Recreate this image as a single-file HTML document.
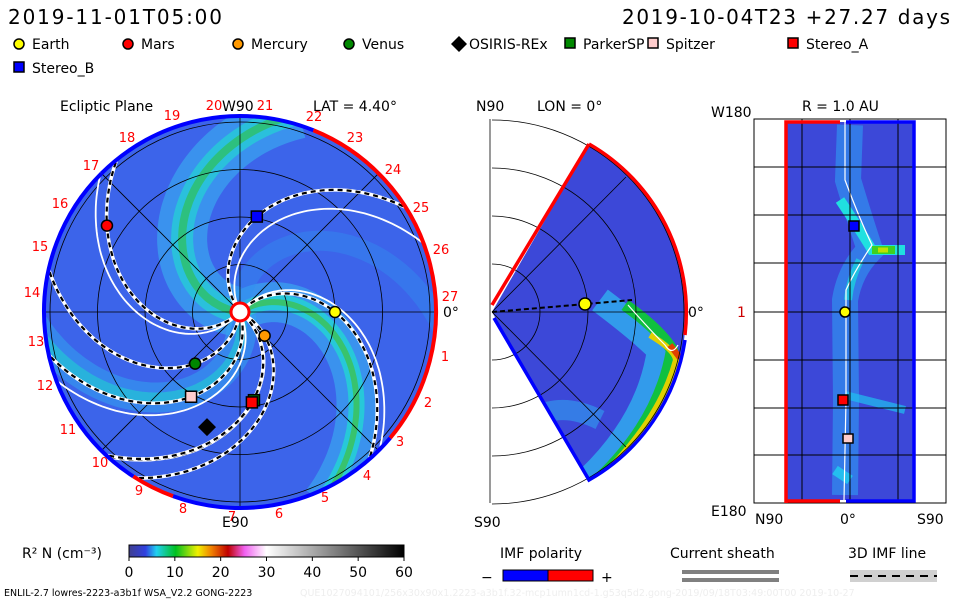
<!DOCTYPE html>
<html><head><meta charset="utf-8"><style>
body{margin:0;background:#fff;width:960px;height:600px;overflow:hidden;font-family:"DejaVu Sans","Liberation Sans",sans-serif}
svg text{font-family:"DejaVu Sans","Liberation Sans",sans-serif}
</style></head><body>
<svg id="s" width="960" height="600" viewBox="0 0 960 600" xmlns="http://www.w3.org/2000/svg">
<defs>
<clipPath id="cc"><circle cx="240" cy="312" r="196"/></clipPath>
<clipPath id="wc"><path d="M492,312 L589,144 A194,194 0 0 1 589,480 Z"/></clipPath>
<clipPath id="rc"><rect x="786" y="122" width="128" height="378"/></clipPath>
<linearGradient id="cb" x1="0" x2="1">
<stop offset="0" stop-color="#404090"/><stop offset="0.06" stop-color="#3040e0"/><stop offset="0.1" stop-color="#20d0f0"/><stop offset="0.17" stop-color="#00c020"/><stop offset="0.25" stop-color="#f0f000"/><stop offset="0.3" stop-color="#f08000"/><stop offset="0.36" stop-color="#c00000"/><stop offset="0.42" stop-color="#f060f0"/><stop offset="0.5" stop-color="#ffffff"/><stop offset="1" stop-color="#000000"/>
</linearGradient>
</defs>
<text x="8" y="24" font-size="20" textLength="214">2019-11-01T05:00</text>
<text x="622" y="24" font-size="20" textLength="328">2019-10-04T23 +27.27 days</text>
<g id="legend" font-size="14"></g>

<g>
<text x="60" y="111" font-size="14">Ecliptic Plane</text>
<text x="222" y="111" font-size="14">W90</text>
<text x="313" y="111" font-size="14">LAT = 4.40°</text>
<text x="222" y="527" font-size="14">E90</text>
<text x="443" y="317" font-size="14">0°</text>
<circle cx="240" cy="312" r="196" fill="#3c64ea"/>
<g id="bands" clip-path="url(#cc)"></g>
<g id="grid" clip-path="url(#cc)" fill="none" stroke="#000" stroke-width="0.8"></g>
<g id="spirals" clip-path="url(#cc)" fill="none"></g>
<g id="rimarcs" fill="none" stroke-width="4"></g>
<circle cx="240" cy="312" r="9" fill="#fff" stroke="#f00" stroke-width="3"/>
<g id="lonlabels" font-size="13" fill="#f00"></g>
<g id="bodies"></g>
</g>

<g>
<text x="476" y="111" font-size="14">N90</text>
<text x="537" y="111" font-size="14">LON = 0°</text>
<text x="474" y="527" font-size="14">S90</text>
<text x="688" y="317" font-size="14">0°</text>
<path d="M492,312 L589,144 A194,194 0 0 1 589,480 Z" fill="#3c48d8"/>
<g clip-path="url(#wc)" fill="none">
<path d="M600,300 Q640,330 660,350 Q650,420 590,478" stroke="#30b0f0" stroke-width="26" opacity="0.8"/>
<path d="M625,305 Q660,330 672,350 Q660,420 600,478" stroke="#10c040" stroke-width="12"/>
<path d="M650,335 Q675,350 676,360 Q660,420 600,478" stroke="#e0d000" stroke-width="6"/>
<path d="M670,345 L680,358" stroke="#e04000" stroke-width="6"/>
<path d="M600,420 Q560,400 530,420" stroke="#30a0f0" stroke-width="20" opacity="0.6"/>
</g>
<g fill="none" stroke="#000" stroke-width="0.8">
<line x1="490" y1="119" x2="490" y2="503"/>
<path d="M492,264 A48,48 0 0 1 492,360 M492,216 A96,96 0 0 1 492,408 M492,168 A144,144 0 0 1 492,456 M492,120 A192,192 0 0 1 492,504"/>
<line x1="492" y1="312" x2="690" y2="312"/><line x1="492" y1="312" x2="626" y2="177"/><line x1="492" y1="312" x2="626" y2="447"/>
</g>
<path d="M628,305 Q650,330 665,345 Q672,356 678,345" fill="none" stroke="#fff" stroke-width="1.2"/>
<path d="M492,312 L586,304 L632,300" fill="none" stroke="#000" stroke-width="2" stroke-dasharray="5,3"/>
<path d="M492,305 L589,144" stroke="#f00" stroke-width="3.5" fill="none"/>
<path d="M589,144 A194,194 0 0 1 685,335" stroke="#f00" stroke-width="3.5" fill="none"/>
<path d="M685,340 A194,194 0 0 1 589,480 L494,318" stroke="#00f" stroke-width="3.5" fill="none"/>
<circle cx="585" cy="304" r="6" fill="#ff0" stroke="#000" stroke-width="1.5"/>
</g>

<g>
<text x="802" y="111" font-size="14">R = 1.0 AU</text>
<text x="711" y="117" font-size="14">W180</text>
<text x="711" y="516" font-size="14">E180</text>
<text x="755" y="524" font-size="14">N90</text>
<text x="840" y="524" font-size="14">0°</text>
<text x="917" y="524" font-size="14">S90</text>
<text x="737" y="317" font-size="14" fill="#c00">1</text>
<rect x="754" y="119" width="192" height="384" fill="#fff" stroke="#000" stroke-width="1"/>
<rect x="786" y="122" width="128" height="378" fill="#3c48d8"/>
<g clip-path="url(#rc)" fill="none">
<path d="M850,125 L848,180 Q860,220 870,250 Q850,270 845,300 L846,400 L845,495" stroke="#3090f0" stroke-width="26" opacity="0.7"/>
<path d="M840,200 Q860,230 872,250 L905,250" stroke="#20e0e0" stroke-width="10"/>
<path d="M872,250 L895,250" stroke="#40d020" stroke-width="8"/>
<path d="M878,250 L888,250" stroke="#c0e000" stroke-width="5"/>
<path d="M860,260 Q850,280 848,300" stroke="#20c0e0" stroke-width="8"/>
<path d="M845,395 L905,410" stroke="#20c0f0" stroke-width="8" opacity="0.7"/>
<path d="M835,470 L850,480" stroke="#20d0f0" stroke-width="10" opacity="0.8"/>
</g>
<path d="M845,122 L845,180 Q860,220 872,245 Q855,270 846,290 L846,400 L844,500" fill="none" stroke="#fff" stroke-width="1.2"/>
<g stroke="#000" stroke-width="1"><line x1="802" y1="119" x2="802" y2="503"/><line x1="850" y1="119" x2="850" y2="503"/><line x1="898" y1="119" x2="898" y2="503"/>
<line x1="754" y1="167" x2="946" y2="167"/><line x1="754" y1="215" x2="946" y2="215"/><line x1="754" y1="263" x2="946" y2="263"/><line x1="754" y1="312" x2="946" y2="312"/><line x1="754" y1="360" x2="946" y2="360"/><line x1="754" y1="408" x2="946" y2="408"/><line x1="754" y1="455" x2="946" y2="455"/></g>
<path d="M786,503 L786,122 L840,122" stroke="#f00" stroke-width="3.5" fill="none"/><path d="M786,501 L840,501" stroke="#f00" stroke-width="3.5"/>
<path d="M846,122 L914,122 L914,501 L846,501" stroke="#00f" stroke-width="3.5" fill="none"/>
<rect x="849" y="221" width="10" height="10" fill="#00f" stroke="#000" stroke-width="1.5"/>
<circle cx="845" cy="312" r="5" fill="#ff0" stroke="#000" stroke-width="1.5"/>
<rect x="838" y="395" width="10" height="10" fill="#f00" stroke="#000" stroke-width="1.5"/>
<rect x="843" y="434" width="10" height="9" fill="#fcc" stroke="#000" stroke-width="1.5"/>
</g>

<g>
<text x="22" y="558" font-size="14">R² N (cm⁻³)</text>
<rect x="129" y="545" width="275" height="12" fill="url(#cb)" stroke="#000" stroke-width="1"/>
<g id="cbticks" font-size="14" text-anchor="middle"></g>
</g>
<text x="4" y="596" font-size="9.5">ENLIL-2.7 lowres-2223-a3b1f WSA_V2.2 GONG-2223</text>
<text x="300" y="596" font-size="9.5" fill="#eee">QUE1027094101/256x30x90x1.2223-a3b1f.32-mcp1umn1cd-1.g53q5d2.gong-2019/09/18T03:49:00T00     2019-10-27</text>

<g>
<text x="500" y="558" font-size="14">IMF polarity</text>
<text x="481" y="582" font-size="14">−</text>
<rect x="503" y="570" width="45" height="11" fill="#00f" stroke="#000"/><rect x="548" y="570" width="45" height="11" fill="#f00" stroke="#000"/>
<text x="601" y="582" font-size="14">+</text>
</g>
<g>
<text x="670" y="558" font-size="14">Current sheath</text>
<rect x="682" y="570" width="97" height="4" fill="#808080"/><rect x="682" y="578" width="97" height="4" fill="#808080"/>
</g>
<g>
<text x="848" y="558" font-size="14">3D IMF line</text>
<rect x="850" y="570" width="87" height="12" fill="#d0d0d0"/>
<line x1="850" y1="576" x2="937" y2="576" stroke="#000" stroke-width="2" stroke-dasharray="8,6"/>
</g>
</svg>
<script>
const NS="http://www.w3.org/2000/svg";
const cbTicks=[0,10,20,30,40,50,60];
// bodies: name, shape, color, angle(deg, math ccw from +x), radius (AU)
const bodyNames=["Earth","Mars","Mercury","Venus","OSIRIS-REx","ParkerSP","Spitzer","Stereo_A","Stereo_B"];
const bodyShapes=["c","c","c","c","d","s","s","s","s"];
const bodyColors=["#ff0","#f00","#f90","#080","#000","#080","#fcc","#f00","#00f"];
const bodyAngles=[0,147,-44,-131,-106,-81,-120,-82.5,80];
const bodyRadii=[1.0,1.67,0.36,0.72,1.26,0.94,1.03,0.96,1.02];
const lonLabels=["18","19","20","21","22","23","24","25","26","27","1","2","3","4","5","6","7","8","9","10","11","12","13","14","15","16","17"];
const lonX=[127,172,214,265,314,355,393,421,441,450,445,428,400,367,325,279,232,183,139,100,68,45,36,32,40,60,91];
const lonY=[142,120,110,110,121,142,174,212,254,301,361,407,446,480,502,518,521,513,495,467,434,390,346,297,251,208,170];

const cx=240,cy=312,R=196,AU=95,W=0.8;
function el(t,a,p){const e=document.createElementNS(NS,t);for(const k in a)e.setAttribute(k,a[k]);(p||document.getElementById("s")).appendChild(e);return e;}
function xy(ang,r){const a=ang*Math.PI/180;return [cx+r*AU*Math.cos(a),cy-r*AU*Math.sin(a)];}
function spiral(ang,r0){
  let d="";for(let r=0.05;r<=2.2;r+=0.03){const a=ang+(r0-r)*W*180/Math.PI;const p=xy(a,r);d+=(d?"L":"M")+p[0].toFixed(1)+","+p[1].toFixed(1);}return d;}

// legend
const lg=document.getElementById("legend");
const lgX=[14,123,233,344,453,565,648,788,14],lgY=[48,48,48,48,48,48,48,48,72];
bodyNames.forEach((n,i)=>{
  const g=el("g",{},lg);
  
  
  const x=lgX[i],y=lgY[i];
  if(bodyShapes[i]==="c")el("circle",{cx:x+5,cy:y-4,r:5,fill:bodyColors[i],stroke:"#000","stroke-width":1.5},g);
  else if(bodyShapes[i]==="d")el("path",{d:`M${x+6},${y-12}L${x+14},${y-4}L${x+6},${y+4}L${x-2},${y-4}Z`,fill:"#000"},g);
  else el("rect",{x:x,y:y-10,width:10,height:10,fill:bodyColors[i],stroke:"#000","stroke-width":1.5},g);
  const t=el("text",{x:x+(bodyShapes[i]==="d"?16:18),y:y+1},g);t.textContent=n;
});

// background bands
const bands=document.getElementById("bands");
[[100,50,"#38b0f0",0.6],[100,22,"#20e0d0",0.6],[100,8,"#30c040",0.6],[-40,40,"#38b0f0",0.6],[-40,16,"#20e0d0",0.7],[-40,6,"#40c040",0.7],[-150,30,"#30a8f0",0.5],[-150,10,"#20d0d0",0.6],[20,20,"#3090f0",0.4]].forEach(b=>{
  const p=el("path",{d:spiral(b[0],1.6),stroke:b[2],"stroke-width":b[1],fill:"none",opacity:b[3]},bands);
  
  
});
// grid
const grid=document.getElementById("grid");
[0.5,1,1.5,2].forEach(r=>el("circle",{cx:cx,cy:cy,r:r*AU},grid));
for(let a=0;a<180;a+=45){const p1=xy(a,2.2),p2=xy(a+180,2.2);el("line",{x1:p1[0],y1:p1[1],x2:p2[0],y2:p2[1]},grid);}
const sp=document.getElementById("spirals");
[60,-5,-120,175].forEach(a=>{const p=el("path",{d:spiral(a,1.2),stroke:"#fff","stroke-width":1.8},sp);
  
  });
bodyNames.forEach((n,i)=>{
  if(n==="OSIRIS-REx")return;
  const d=spiral(bodyAngles[i],bodyRadii[i]);
  el("path",{d:d,stroke:"#fff","stroke-width":3.5},sp);
  const p=el("path",{d:d,stroke:"#000","stroke-width":2.2,"stroke-dasharray":"5,4"},sp);
  
  
});
const rim=document.getElementById("rimarcs");
function arc(a1,a2,col){const p1=xy(a1,R/AU),p2=xy(a2,R/AU);const large=((a1-a2+360)%360)>180?1:0;
  const e=el("path",{d:`M${p1[0]},${p1[1]}A${R},${R} 0 ${large} 1 ${p2[0]},${p2[1]}`,stroke:col},rim);
  
  }
arc(135,68,"#00f");arc(68,-40,"#f00");arc(-40,-110,"#00f");arc(-110,-123,"#f00");arc(-123,-225,"#00f");
const ll=document.getElementById("lonlabels");
lonLabels.forEach((t,i)=>{const e=el("text",{x:lonX[i],y:lonY[i],"text-anchor":"middle"},ll);e.textContent=t;
  
  });
const bg=document.getElementById("bodies");
bodyNames.forEach((n,i)=>{
  const p=xy(bodyAngles[i],bodyRadii[i]);let e;
  if(bodyShapes[i]==="c")e=el("circle",{cx:p[0],cy:p[1],r:5.5,fill:bodyColors[i],stroke:"#000","stroke-width":1.5},bg);
  else if(bodyShapes[i]==="d")e=el("path",{d:`M${p[0]},${p[1]-9}L${p[0]+9},${p[1]}L${p[0]},${p[1]+9}L${p[0]-9},${p[1]}Z`,fill:"#000"},bg);
  else e=el("rect",{x:p[0]-5.5,y:p[1]-5.5,width:11,height:11,fill:bodyColors[i],stroke:"#000","stroke-width":1.5},bg);
  
  
});
const cbt=document.getElementById("cbticks");
cbTicks.forEach(v=>{const x=129+v/60*275;
  el("line",{x1:x,y1:557,x2:x,y2:561,stroke:"#000"},cbt);
  const t=el("text",{x:x,y:577},cbt);t.textContent=v;
  
  });
</script>
</body></html>
